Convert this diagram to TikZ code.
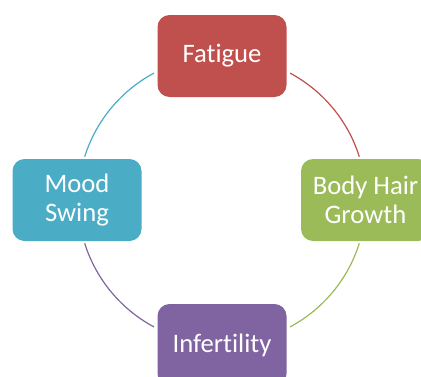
\documentclass[tikz,border=0pt]{standalone}
\usepackage{fontspec}
\setmainfont[Ligatures=NoCommon]{Carlito}
\usetikzlibrary{calc}
\definecolor{cyred}{HTML}{C0504D}
\definecolor{cygreen}{HTML}{9BBB59}
\definecolor{cypurple}{HTML}{8064A2}
\definecolor{cyteal}{HTML}{4BACC6}
\begin{document}
\begin{tikzpicture}[x=0.75pt, y=0.75pt,
    stage/.style={rounded corners=9pt, minimum width=96.75pt, minimum height=61.5pt,
        text=white, align=center, font=\fontsize{20}{22}\selectfont, inner sep=2pt},
    link/.style={line width=0.9pt}]
    % 1. frame and centre of the cycle
    \useasboundingbox (0,0) rectangle (421,376);
    \coordinate (c) at (222,176);

    % 2. the four stages
    \node[stage, fill=cyred] (fatigue) at ($(c)+(90:144)$) {Fatigue};
    \node[stage, fill=cygreen] (hair) at ($(c)+(0:143.5)$) {Body Hair\\Growth};
    \node[stage, fill=cypurple] (infertility) at ($(c)+(270:145)$) {Infertility};
    \node[stage, fill=cyteal] (mood) at ($(c)+(180:145)$) {Mood\\Swing};

    % 3. arcs between the stages
    \draw[link, cyred] ($(c)+(61.8:144)$) arc[start angle=61.8, end angle=17.5, radius=144];
    \draw[link, cygreen] ($(c)+(-17.5:144)$) arc[start angle=-17.5, end angle=-61.8, radius=144];
    \draw[link, cypurple] ($(c)+(-118.2:144)$) arc[start angle=-118.2, end angle=-162.5, radius=144];
    \draw[link, cyteal] ($(c)+(162.5:144)$) arc[start angle=162.5, end angle=118.2, radius=144];
\end{tikzpicture}
\end{document}
